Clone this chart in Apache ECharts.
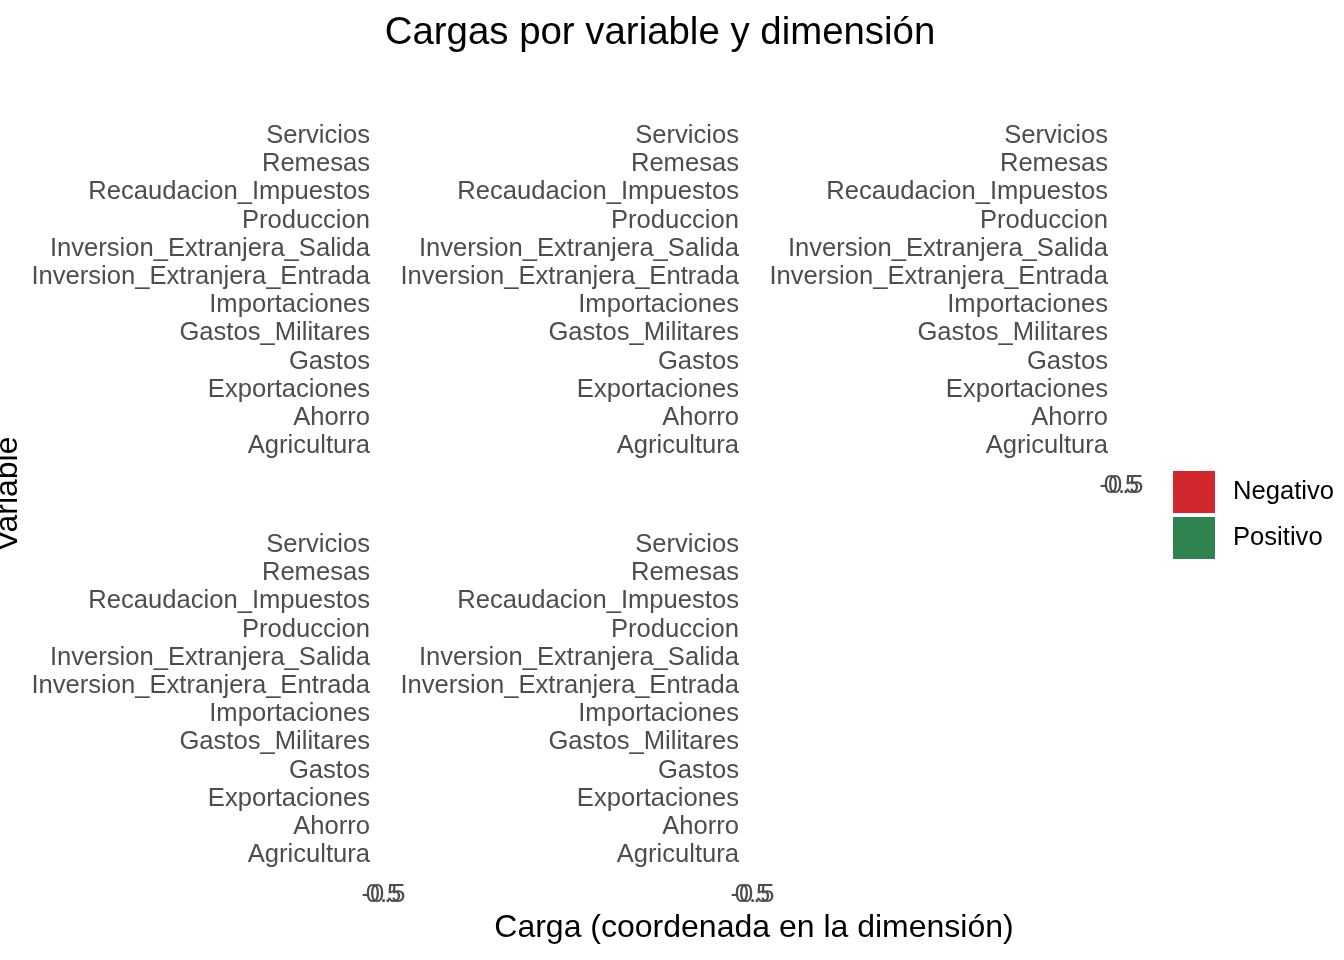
<!DOCTYPE html>
<html>
<head>
<meta charset="utf-8">
<script src="https://cdn.jsdelivr.net/npm/echarts@6/dist/echarts.min.js"></script>
<style>
html,body{margin:0;padding:0;background:#fff;}
#chart{width:1344px;height:960px;}
</style>
</head>
<body>
<div id="chart"></div>
<script>
// Variables (bottom to top on the category axis)
var variables = ['Agricultura','Ahorro','Exportaciones','Gastos','Gastos_Militares','Importaciones',
  'Inversion_Extranjera_Entrada','Inversion_Extranjera_Salida','Produccion','Recaudacion_Impuestos','Remesas','Servicios'];
// Facet (dimension) names
var dimensions = ['Dim1','Dim2','Dim3','Dim4','Dim5'];
// Loadings per dimension (panels are collapsed to zero width in the reference, values estimated)
var dim1 = [0.31, 0.42, 0.38, 0.45, 0.22, 0.40, 0.35, 0.29, 0.47, 0.41, -0.12, 0.33];
var dim2 = [-0.28, 0.15, 0.36, -0.21, 0.40, 0.30, -0.18, 0.25, -0.10, -0.33, 0.44, 0.12];
var dim3 = [0.45, -0.30, 0.12, 0.18, -0.25, -0.14, 0.38, -0.41, 0.20, 0.09, 0.27, -0.35];
var dim4 = [-0.20, 0.33, -0.41, 0.10, 0.37, -0.26, 0.14, 0.22, -0.31, 0.28, -0.16, 0.40];
var dim5 = [0.38, -0.22, 0.17, -0.36, 0.12, 0.43, -0.29, 0.18, 0.25, -0.19, 0.31, -0.11];
var loadings = [dim1, dim2, dim3, dim4, dim5];
// Fill groups
var signNames = ['Negativo','Positivo'];
var signColors = ['#D1272D','#2E8351'];
// X tick values
var xTicks = [-0.5, 0.0, 0.5];

var FONT = "'Liberation Sans', Arial, Helvetica, sans-serif";
var chart = echarts.init(document.getElementById('chart'), null, {renderer:'canvas'});

// panel layout (facet_wrap 3 columns, 2 rows; panels collapsed to zero width)
var panelX = [383.5, 752.5, 1121.5];
var panelTop = [121.9, 530.9];
var panelH = 338.2;
var showX = [false, false, true, true, true];

var grids = [], xAxes = [], yAxes = [], series = [];
for (var i = 0; i < dimensions.length; i++) {
  var col = i % 3, row = Math.floor(i / 3);
  grids.push({left: panelX[col], top: panelTop[row], width: 0, height: panelH,
    containLabel: false, outerBoundsMode: 'none', show: false});
  xAxes.push({type:'value', gridIndex:i, min:xTicks[0], max:xTicks[xTicks.length-1], interval:0.5,
    axisLine:{show:false}, axisTick:{show:false}, splitLine:{show:false},
    axisLabel:{show:showX[i], fontSize:25.6, color:'#4D4D4D', fontFamily:FONT, margin:13,
      showMinLabel:true, showMaxLabel:true, hideOverlap:false,
      formatter:function(v){return v.toFixed(1);}}});
  yAxes.push({type:'category', gridIndex:i, data:variables,
    axisLine:{show:false}, axisTick:{show:false}, splitLine:{show:false},
    axisLabel:{fontSize:25.6, color:'#4D4D4D', fontFamily:FONT, margin:13.5, interval:0}});
  var vals = loadings[i];
  series.push({name:signNames[0], type:'bar', xAxisIndex:i, yAxisIndex:i, stack:'s'+i,
    itemStyle:{color:signColors[0]}, barWidth:'90%',
    data: vals.map(function(v){return v < 0 ? v : null;})});
  series.push({name:signNames[1], type:'bar', xAxisIndex:i, yAxisIndex:i, stack:'s'+i,
    itemStyle:{color:signColors[1]}, barWidth:'90%',
    data: vals.map(function(v){return v >= 0 ? v : null;})});
}

chart.setOption({
  animation:false,
  backgroundColor:'#fff',
  textStyle:{fontFamily:FONT},
  grid:grids, xAxis:xAxes, yAxis:yAxes, series:series,
  legend:{data:signNames, orient:'vertical', left:1168, top:466, itemWidth:42, itemHeight:42, itemGap:4,
    icon:'rect', selectedMode:false,
    textStyle:{fontSize:25.6, color:'#000', fontFamily:FONT, padding:[0,0,0,13]}},
  graphic:[
    {type:'text', x:660, y:33, style:{text:'Cargas por variable y dimensión', font:'38.4px '+FONT,
      fill:'#000', textAlign:'center', textVerticalAlign:'middle'}},
    {type:'text', x:754, y:928, style:{text:'Carga (coordenada en la dimensión)', font:'32px '+FONT,
      fill:'#000', textAlign:'center', textVerticalAlign:'middle'}},
    {type:'text', x:8, y:494, rotation:Math.PI/2, style:{text:'Variable', font:'32px '+FONT,
      fill:'#000', textAlign:'center', textVerticalAlign:'middle'}}
  ]
});
</script>
</body>
</html>
